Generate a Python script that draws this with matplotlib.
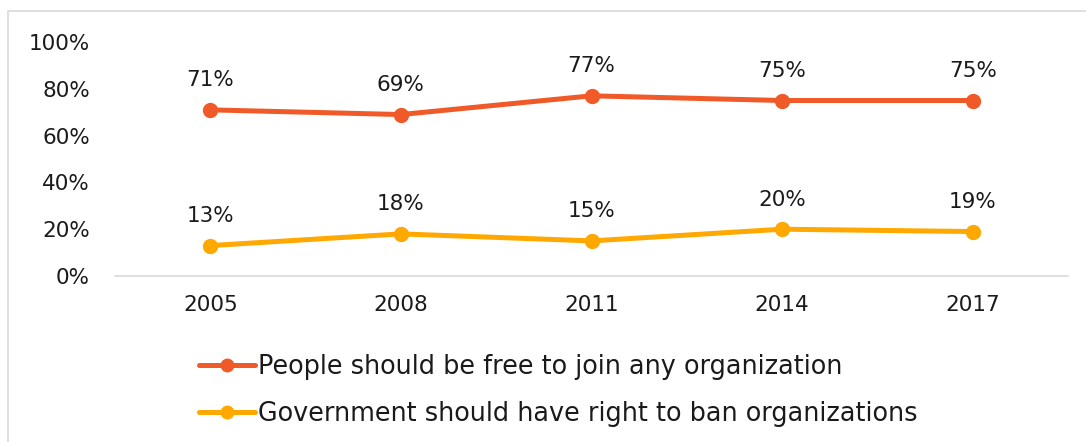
import matplotlib.pyplot as plt
from matplotlib.patches import Rectangle
from matplotlib.ticker import PercentFormatter

YEARS = ["2005", "2008", "2011", "2014", "2017"]
FREE_TO_JOIN = [71, 69, 77, 75, 75]
RIGHT_TO_BAN = [13, 18, 15, 20, 19]
SERIES_NAMES = [
    "People should be free to join any organization",
    "Government should have right to ban organizations",
]
COLORS = ["#F05A28", "#FFA800"]

plt.rcParams["font.family"] = ["DejaVu Sans"]

W, H = 1086, 442
fig = plt.figure(figsize=(W / 100, H / 100), dpi=100)
fig.patches.append(Rectangle((8 / W, -0.1), 1.2, 1 - 11 / H + 0.1, transform=fig.transFigure,
                             fill=False, edgecolor="#D9D9D9", linewidth=1.2))

ax = fig.add_axes([115 / W, 1 - 276 / H, (1068 - 115) / W, (276 - 42) / H])
x = list(range(len(YEARS)))

for vals, name, color in zip([FREE_TO_JOIN, RIGHT_TO_BAN], SERIES_NAMES, COLORS):
    ax.plot(x, vals, color=color, linewidth=3.6, marker="o", markersize=10,
            solid_capstyle="round", label=name)
    for xi, v in zip(x, vals):
        ax.annotate(f"{v}%", (xi, v), xytext=(0, 14), textcoords="offset points",
                    ha="center", va="bottom", fontsize=15.5, color="#1a1a1a")

ax.set_xlim(-0.5, len(YEARS) - 0.5)
ax.set_ylim(0, 100)
ax.set_yticks(range(0, 101, 20))
ax.yaxis.set_major_formatter(PercentFormatter(decimals=0))
ax.set_xticks(x)
ax.set_xticklabels(YEARS)
ax.tick_params(axis="both", length=0, labelsize=15.5, labelcolor="#1a1a1a")
ax.tick_params(axis="y", pad=18)
ax.tick_params(axis="x", pad=14)

for side in ["top", "right", "left"]:
    ax.spines[side].set_visible(False)
ax.spines["bottom"].set_color("#D9D9D9")
ax.spines["bottom"].set_linewidth(1.2)

fig.legend(loc="upper left", bbox_to_anchor=(176 / W, 1 - 331 / H), frameon=False,
           fontsize=18.4, handlelength=2.2, handletextpad=0.1, labelspacing=0.82,
           labelcolor="#1a1a1a", markerscale=0.9)

fig.savefig("out.png", dpi=100)
